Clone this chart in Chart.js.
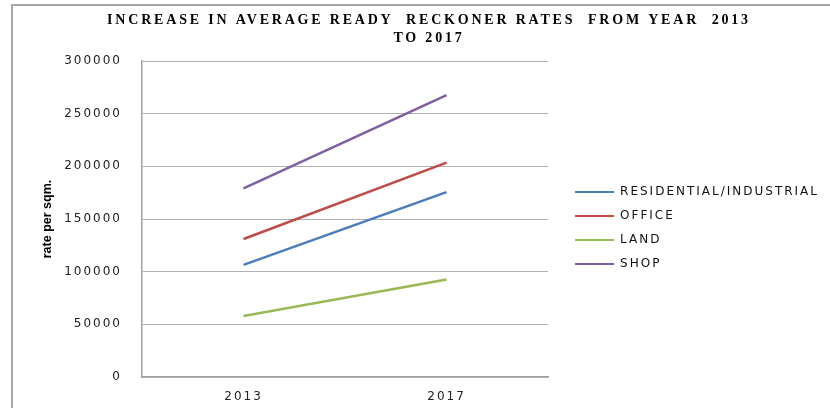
<!DOCTYPE html>
<html>
<head>
<meta charset="utf-8">
<script src="https://cdn.jsdelivr.net/npm/chart.js@4.4.1/dist/chart.umd.min.js"></script>
<style>
  html, body { margin: 0; padding: 0; background: #fff; }
  #wrap { position: relative; width: 830px; height: 408px; }
  #frame {
    position: absolute; left: 11px; top: 4px; right: 0; bottom: 0;
    border-left: 2px solid #a6a6a6; border-top: 2px solid #a6a6a6;
    pointer-events: none;
  }
  canvas { position: absolute; left: 0; top: 0; }
</style>
</head>
<body>
<div id="wrap">
  <canvas id="myChart" width="830" height="408"></canvas>
  <div id="frame"></div>
</div>
<script>
const years = ["2013", "2017"];
const residential = [106500, 175500];
const office = [131000, 203500];
const land = [58000, 92500];
const shop = [179000, 267500];
const yTicks = [0, 50000, 100000, 150000, 200000, 250000, 300000];

const series = [
  { label: "RESIDENTIAL/INDUSTRIAL", data: residential, color: "#4a7ebb" },
  { label: "OFFICE", data: office, color: "#be4b48" },
  { label: "LAND", data: land, color: "#98b954" },
  { label: "SHOP", data: shop, color: "#7d60a0" },
];

// the original picture is stretched sideways, so widen the text a bit
const spacingFor = (font) =>
  font.includes("Serif") ? 2.8 : font.includes("bold") ? 0 : 2;

function spaceText(ctx) {
  const fill = ctx.fillText;
  const measure = ctx.measureText;
  ctx.fillText = function (...args) {
    this.letterSpacing = spacingFor(this.font) + "px";
    return fill.apply(this, args);
  };
  ctx.measureText = function (...args) {
    this.letterSpacing = spacingFor(this.font) + "px";
    return measure.apply(this, args);
  };
}

const sans = "'DejaVu Sans', Verdana, sans-serif";

const config = {
  type: "line",
  data: {
    labels: years,
    datasets: series.map((s) => ({
      label: s.label,
      data: s.data,
      borderColor: s.color,
      backgroundColor: s.color,
      borderWidth: 2.5,
      pointRadius: 0,
      tension: 0,
    })),
  },
  options: {
    responsive: false,
    animation: false,
    layout: { padding: { left: 29, right: 1, top: 10, bottom: 6 } },
    plugins: {
      title: {
        display: true,
        text: ["INCREASE IN AVERAGE READY  RECKONER RATES  FROM YEAR  2013", "TO 2017"],
        color: "#000",
        font: { family: "'Liberation Serif', 'Times New Roman', serif", size: 14, weight: "bold", lineHeight: "18px" },
        padding: { top: 1, bottom: 14 },
      },
      legend: {
        position: "right",
        maxWidth: 320,
        // blank title only pushes the items down a little
        title: { display: true, text: " ", font: { size: 10 }, padding: { top: 32, bottom: 0 } },
        labels: {
          color: "#111",
          font: { family: sans, size: 12 },
          boxWidth: 39,
          boxHeight: 2,
          padding: 12,
          generateLabels(chart) {
            return Chart.defaults.plugins.legend.labels
              .generateLabels(chart)
              .map((l) => ({ ...l, lineWidth: 0 }));
          },
        },
      },
      tooltip: { enabled: false },
    },
    scales: {
      x: {
        offset: true,
        grid: { display: false, drawTicks: false },
        border: { color: "#a0a0a0", width: 1.5 },
        ticks: { color: "#222", padding: 13, font: { family: sans, size: 12 } },
        afterFit(scale) {
          scale.height = 25;
        },
      },
      y: {
        min: 0,
        max: 300000,
        afterBuildTicks(scale) {
          scale.ticks = yTicks.map((v) => ({ value: v }));
        },
        afterFit(scale) {
          scale.width = 113;
        },
        grid: { color: "#b0b0b0", lineWidth: 1, drawTicks: false },
        border: { color: "#a0a0a0", width: 1.5 },
        title: {
          display: true,
          text: "rate per sqm.",
          color: "#000",
          font: { family: "'Liberation Sans', Arial, sans-serif", size: 12.5, weight: "bold" },
          padding: { top: 11, bottom: 0 },
        },
        ticks: {
          color: "#222",
          padding: 20,
          font: { family: sans, size: 12 },
          callback: (v) => String(v),
        },
      },
      // empty axis, only keeps a gap between plot and legend
      gap: {
        type: "linear",
        position: "right",
        display: true,
        grid: { display: false },
        border: { display: false },
        ticks: { display: false },
        afterFit(scale) {
          scale.width = 15;
        },
      },
    },
  },
};

const ctx = document.getElementById("myChart").getContext("2d");
spaceText(ctx);
const chart = new Chart(ctx, config);
</script>
</body>
</html>
